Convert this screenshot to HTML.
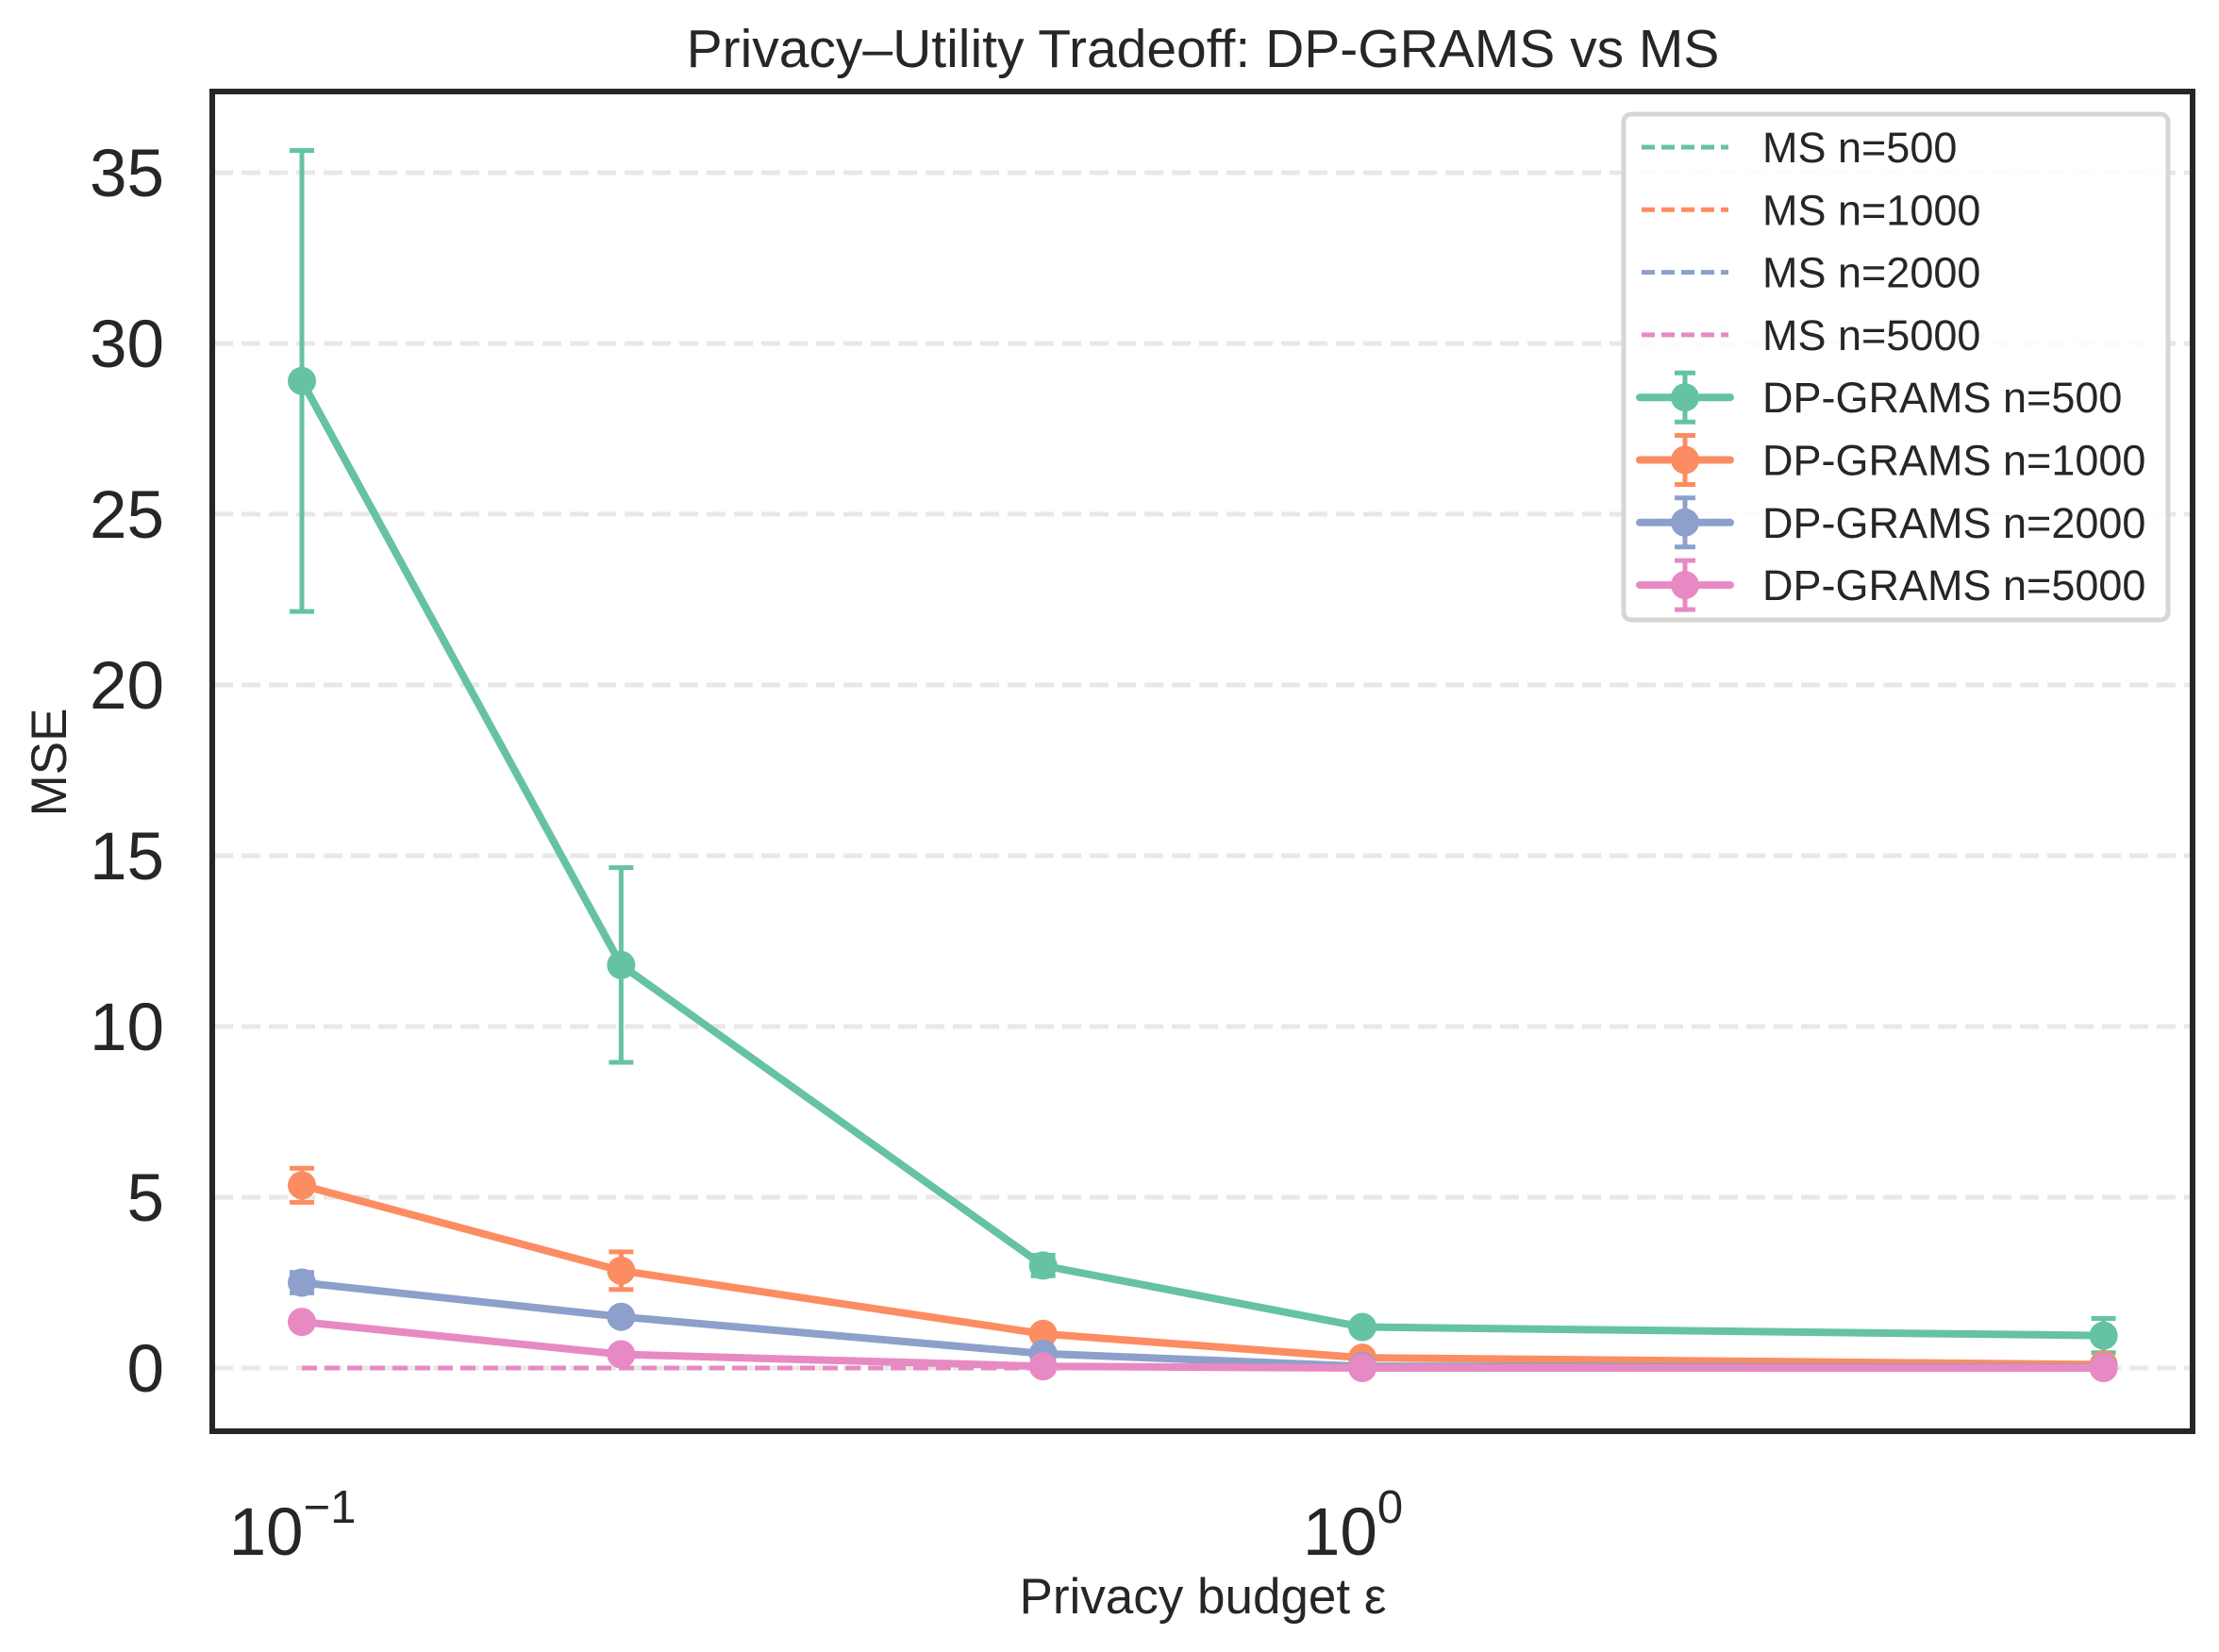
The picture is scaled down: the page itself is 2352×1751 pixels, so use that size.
<!DOCTYPE html>
<html><head><meta charset="utf-8">
<style>
html,body{margin:0;padding:0;background:#fff;}
svg{display:block;font-family:"Liberation Sans",Arial,sans-serif;}
</style></head>
<body>
<svg id="chart" width="2352" height="1751" viewBox="0 0 2352 1751" xmlns="http://www.w3.org/2000/svg">
<rect width="2352" height="1751" fill="#fff"/>
<g id="grid"></g>
<g id="series"></g>
<rect x="225" y="97" width="2099" height="1420" fill="none" stroke="#262626" stroke-width="6"/>
<g id="yticks"></g>
<g id="xticks"></g>
<text x="1275" y="71" font-size="57" fill="#262626" text-anchor="middle">Privacy–Utility Tradeoff: DP-GRAMS vs MS</text>
<text x="1275" y="1710" font-size="53" fill="#262626" text-anchor="middle">Privacy budget ε</text>
<text transform="translate(70,808) rotate(-90)" font-size="53" fill="#262626" text-anchor="middle">MSE</text>
<g id="legend">
<rect x="1721" y="121" width="577" height="536" rx="8" fill="#fff" fill-opacity="0.85" stroke="#d6d6d6" stroke-width="5"/>
</g>
</svg>
<script>
const epsilons = [0.1, 0.2, 0.5, 1.0, 5.0];
const dp500 = [28.9, 11.8, 3.0, 1.2, 0.95];
const dp500Err = [6.75, 2.85, 0.3, 0.05, 0.5];
const dp1000 = [5.35, 2.85, 1.0, 0.3, 0.1];
const dp1000Err = [0.5, 0.55, 0.05, 0.03, 0.05];
const dp2000 = [2.5, 1.5, 0.42, 0.05, 0.02];
const dp2000Err = [0.3, 0.1, 0.05, 0.02, 0.01];
const dp5000 = [1.35, 0.4, 0.05, 0.0, 0.0];
const dp5000Err = [0.1, 0.05, 0.02, 0.01, 0.01];
const ms500 = [0, 0, 0, 0, 0];
const ms1000 = [0, 0, 0, 0, 0];
const ms2000 = [0, 0, 0, 0, 0];
const ms5000 = [0, 0, 0, 0, 0];
const yTicks = [0, 5, 10, 15, 20, 25, 30, 35];
const xTickExps = [-1, 0];
const seriesNames = ["500", "1000", "2000", "5000"];

const NS = "http://www.w3.org/2000/svg";
const colors = ["#66c2a5", "#fc8d62", "#8da0cb", "#e78ac3"];
function xs(v){ return 320 + Math.log10(v/0.1) * 1124; }
function ys(v){ return 1450 - v * 36.2; }
function mk(tag, attrs, parent){
  const e = document.createElementNS(NS, tag);
  for (const k in attrs) e.setAttribute(k, attrs[k]);
  parent.appendChild(e);
  return e;
}
const grid = document.getElementById('grid');
const yt = document.getElementById('yticks');
yTicks.forEach(t => {
  const l = mk('line', {x1:227, x2:2322, y1:ys(t), y2:ys(t), stroke:'#e8e8e8', 'stroke-width':5, 'stroke-dasharray':'20 9'}, grid);
  
  
  const tx = mk('text', {x:174, y:ys(t)+25, 'font-size':71, fill:'#262626', 'text-anchor':'end'}, yt);
  tx.textContent = t;
  
  
});
const xt = document.getElementById('xticks');
xTickExps.forEach(e => {
  const x = xs(Math.pow(10, e));
  const tx = mk('text', {x:x-10, y:1648, 'font-size':71, fill:'#262626', 'text-anchor':'middle'}, xt);
  tx.textContent = '10';
  const sup = mk('tspan', {dy:-34, 'font-size':49}, tx);
  sup.textContent = e === -1 ? '\u22121' : String(e);
  
  
});
const ser = document.getElementById('series');
const msData = [ms500, ms1000, ms2000, ms5000];
msData.forEach((d, i) => {
  const p = mk('polyline', {points: d.map((v,j)=>xs(epsilons[j])+','+ys(v)).join(' '), fill:'none', stroke:colors[i], 'stroke-width':5, 'stroke-dasharray':'16 8'}, ser);
  
  
});
const dpData = [dp500, dp1000, dp2000, dp5000];
const dpErr = [dp500Err, dp1000Err, dp2000Err, dp5000Err];
dpData.forEach((d, i) => {
  const g = mk('g', {}, ser);
  
  
  d.forEach((v, j) => {
    const x = xs(epsilons[j]), lo = ys(v - dpErr[i][j]), hi = ys(v + dpErr[i][j]);
    mk('line', {x1:x, x2:x, y1:lo, y2:hi, stroke:colors[i], 'stroke-width':5}, g);
    mk('line', {x1:x-13, x2:x+13, y1:lo, y2:lo, stroke:colors[i], 'stroke-width':5}, g);
    mk('line', {x1:x-13, x2:x+13, y1:hi, y2:hi, stroke:colors[i], 'stroke-width':5}, g);
  });
  mk('polyline', {points: d.map((v,j)=>xs(epsilons[j])+','+ys(v)).join(' '), fill:'none', stroke:colors[i], 'stroke-width':8}, g);
  d.forEach((v, j) => {
    const c = mk('circle', {cx:xs(epsilons[j]), cy:ys(v), r:15, fill:colors[i]}, g);
    
    
  });
});
const leg = document.getElementById('legend');
const labels = ["MS n=500","MS n=1000","MS n=2000","MS n=5000","DP-GRAMS n=500","DP-GRAMS n=1000","DP-GRAMS n=2000","DP-GRAMS n=5000"];
labels.forEach((lab, k) => {
  const y = 156 + k * 66.3;
  const ci = colors[k % 4];
  const g = mk('g', {}, leg);
  
  
  if (k < 4) {
    mk('line', {x1:1740, x2:1832, y1:y, y2:y, stroke:ci, 'stroke-width':5, 'stroke-dasharray':'14 7'}, g);
  } else {
    mk('line', {x1:1738, x2:1834, y1:y, y2:y, stroke:ci, 'stroke-width':8, 'stroke-linecap':'round'}, g);
    mk('line', {x1:1786, x2:1786, y1:y-26, y2:y+26, stroke:ci, 'stroke-width':5}, g);
    mk('line', {x1:1775, x2:1797, y1:y-26, y2:y-26, stroke:ci, 'stroke-width':5}, g);
    mk('line', {x1:1775, x2:1797, y1:y+26, y2:y+26, stroke:ci, 'stroke-width':5}, g);
    mk('circle', {cx:1786, cy:y, r:15, fill:ci}, g);
  }
  const t = mk('text', {x:1868, y:y+16, 'font-size':45, fill:'#262626'}, g);
  t.textContent = lab;
});
</script>
</body></html>
